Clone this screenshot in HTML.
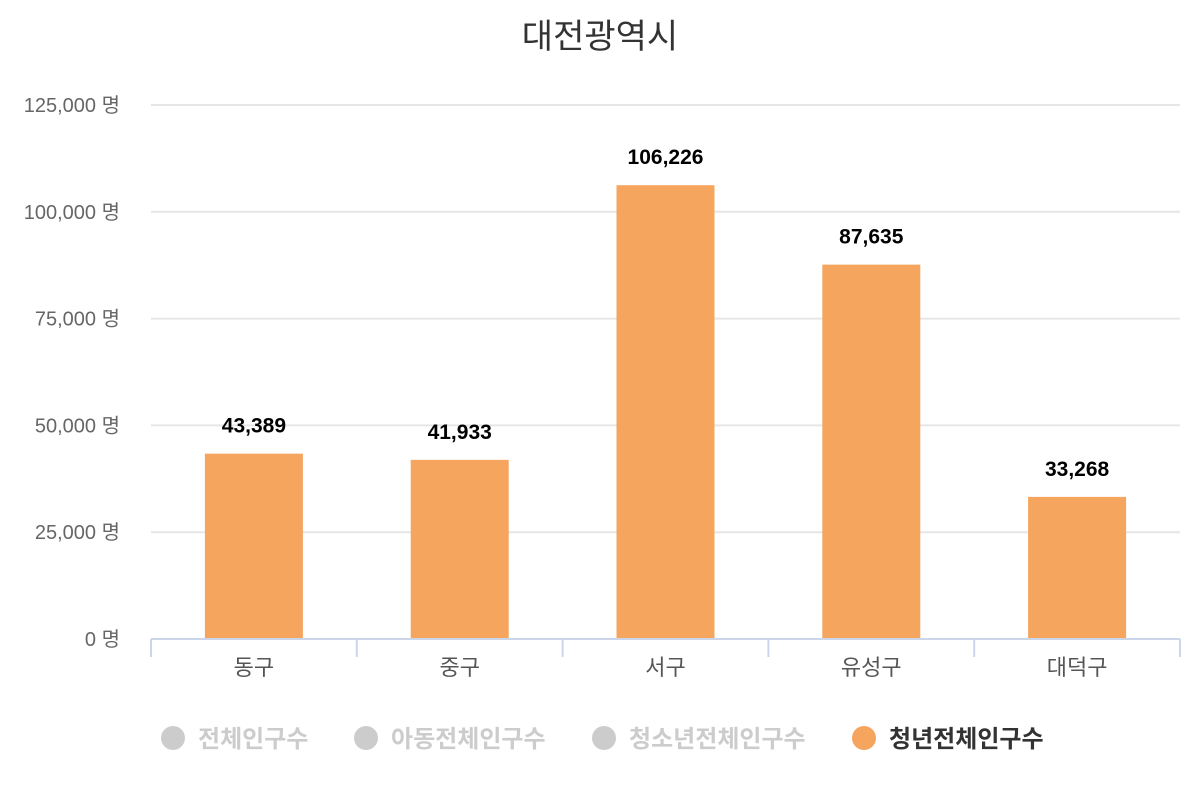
<!DOCTYPE html>
<html><head><meta charset="utf-8"><style>
body{margin:0;background:#fff;}
svg text{font-family:"Liberation Sans","Noto Sans CJK KR",sans-serif;}
</style></head><body>
<svg width="1200" height="800">
<text x="600" y="48" text-anchor="middle" font-size="34" fill="#333">대전광역시</text>
<g id="grid"></g><g id="bars"></g><g id="xaxis"></g>
<g font-size="24" font-weight="bold">
<g><circle cx="173" cy="738" r="12" fill="#ccc"/><text x="198" y="747" fill="#ccc">전체인구수</text></g>
<g><circle cx="366" cy="738" r="12" fill="#ccc"/><text x="391" y="747" fill="#ccc">아동전체인구수</text></g>
<g><circle cx="604" cy="738" r="12" fill="#ccc"/><text x="629" y="747" fill="#ccc">청소년전체인구수</text></g>
<g><circle cx="864" cy="738" r="12" fill="#f5a55d"/><text x="889" y="747" fill="#333">청년전체인구수</text></g>
</g>
</svg>
<script>
const categories=["동구","중구","서구","유성구","대덕구"];
const values=[43389,41933,106226,87635,33268];
const ticks=[0,25000,50000,75000,100000,125000];
const tickLabels=["0 명","25,000 명","50,000 명","75,000 명","100,000 명","125,000 명"];
const NS="http://www.w3.org/2000/svg";
const x0=151,x1=1180,yb=639,yt=105,max=125000;
const y=v=>yb-(v/max)*(yb-yt);
const bw=(x1-x0)/categories.length;
function mk(t,a,p,txt){const e=document.createElementNS(NS,t);for(const k in a)e.setAttribute(k,a[k]);if(txt!=null)e.textContent=txt;p.appendChild(e);return e;}
const g=document.getElementById('grid'),b=document.getElementById('bars'),xa=document.getElementById('xaxis');
ticks.forEach((t,i)=>{
 if(t>0){const l=mk('line',{x1:x0,x2:x1,y1:y(t),y2:y(t),stroke:'#e6e6e6','stroke-width':2},g);
 
 }
 const tx=mk('text',{x:120,y:y(t)+7,'text-anchor':'end','font-size':20,fill:'#666'},g,tickLabels[i]);
 
 
});
const ax=mk('line',{x1:x0,x2:x1,y1:yb,y2:yb,stroke:'#ccd6eb','stroke-width':2},xa);


for(let i=0;i<=categories.length;i++){const t=mk('line',{x1:x0+i*bw,x2:x0+i*bw,y1:yb,y2:yb+18,stroke:'#ccd6eb','stroke-width':2},xa);
 
 }
categories.forEach((c,i)=>{
 const cx=x0+bw*(i+0.5),v=values[i];
 const r=mk('rect',{x:cx-49,y:y(v),width:98,height:yb-y(v),fill:'#f5a55d'},b);
 
 
 const lb=mk('text',{x:cx,y:y(v)-21,'text-anchor':'middle','font-size':21,'font-weight':'bold',fill:'#000'},b,v.toLocaleString('en-US'));
 
 
 const xl=mk('text',{x:cx,y:675,'text-anchor':'middle','font-size':22,fill:'#555'},xa,c);
 
 
});
</script>
</body></html>
